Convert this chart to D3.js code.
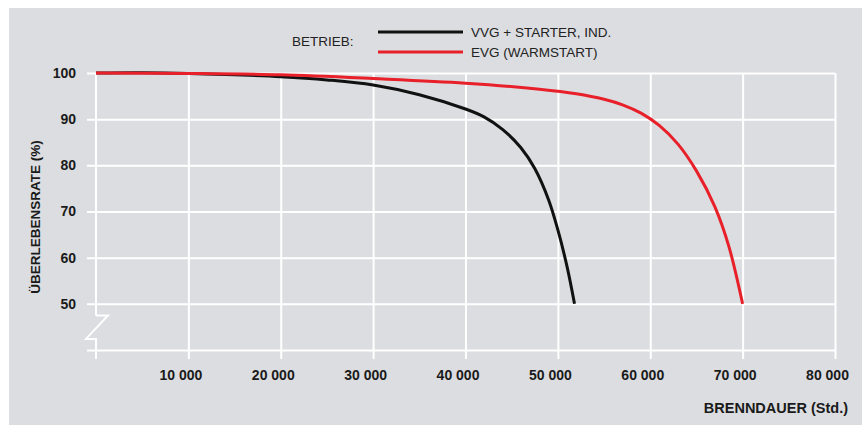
<!DOCTYPE html>
<html>
<head>
<meta charset="utf-8">
<script src="https://cdn.jsdelivr.net/npm/d3@7"></script>
<style>
  body { margin: 0; background: #fff; }
  svg { display: block; font-family: "Liberation Sans", Arial, sans-serif; }
</style>
</head>
<body>
<svg id="chart" width="862" height="426"></svg>
<script>
// Brenndauer (Std.) / Überlebensrate (%)
const vvgHours = [0, 5000, 10000, 15000, 20000, 25000, 30000, 35000, 40000, 42000, 44000, 46000, 47500, 49000, 50000, 51000, 51800];
const vvgRate  = [100, 100.05, 99.9, 99.6, 99.2, 98.5, 97.4, 95.3, 92.2, 90.5, 87.8, 83.8, 79.3, 72.5, 66, 58, 50];

const evgHours = [0, 10000, 20000, 30000, 40000, 48000, 52000, 55000, 57000, 59000, 61000, 63000, 65000, 67000, 68500, 70000];
const evgRate  = [100, 99.9, 99.6, 98.8, 97.8, 96.5, 95.5, 94.3, 93.1, 91.3, 88.6, 84.6, 78.8, 71.0, 62.5, 50];

const seriesNames  = ["VVG + STARTER, IND.", "EVG (WARMSTART)"];
const seriesColors = ["#111111", "#e8202a"];

const xTicks = [10000, 20000, 30000, 40000, 50000, 60000, 70000, 80000];
const yTicks = [40, 50, 60, 70, 80, 90, 100];

const series = [
  vvgHours.map((h, i) => ({h: h, r: vvgRate[i]})),
  evgHours.map((h, i) => ({h: h, r: evgRate[i]}))
];

const svg = d3.select("#chart");

// grauer Hintergrund
svg.append("rect")
  .attr("x", 9).attr("y", 8)
  .attr("width", 853).attr("height", 417)
  .attr("fill", "#dcdde0");

const x = d3.scaleLinear().domain([0, 80000]).range([96, 835]);
const y = d3.scaleLinear().domain([40, 100]).range([350, 73]);

const xBottom = 359;

// x-Achse: senkrechte Gitterlinien + Beschriftung
const xAxis = svg.append("g")
  .attr("transform", `translate(0,${xBottom})`)
  .call(d3.axisBottom(x)
    .tickValues(xTicks)
    .tickSize(-(xBottom - y(100)))
    .tickPadding(11)
    .tickFormat(d => d3.format(",")(d).replace(",", " ")));
xAxis.select(".domain").remove();
xAxis.selectAll(".tick line").attr("stroke", "#fff").attr("stroke-width", 2);
xAxis.selectAll(".tick text")
  .attr("x", -8)
  .attr("fill", "#1a1a1a")
  .style("font-size", "14px")
  .style("font-weight", "bold");

// y-Achse: waagrechte Gitterlinien + Beschriftung
const yAxis = svg.append("g")
  .attr("transform", `translate(${x(80000)},0)`)
  .call(d3.axisLeft(y)
    .tickValues(yTicks)
    .tickSize(x(80000) - 87)
    .tickPadding(11)
    .tickFormat(d => d === 40 ? "" : d));
yAxis.select(".domain").remove();
yAxis.selectAll(".tick line").attr("stroke", "#fff").attr("stroke-width", 2);
yAxis.selectAll(".tick text")
  .attr("fill", "#1a1a1a")
  .style("font-size", "14px")
  .style("font-weight", "bold");

// linke Achse mit Bruchzeichen
const x0 = x(0);
svg.append("line")
  .attr("x1", x0).attr("x2", x0)
  .attr("y1", y(100)).attr("y2", y(47.5))
  .attr("stroke", "#fff").attr("stroke-width", 2);
svg.append("path")
  .attr("d", `M${x0},${y(47.5)} H${x0 + 12} L${x0 - 10},${y(42.4)} H${x0} V${xBottom}`)
  .attr("fill", "none")
  .attr("stroke", "#fff")
  .attr("stroke-width", 2);

// Kurven
const line = d3.line()
  .x(d => x(d.h))
  .y(d => y(d.r))
  .curve(d3.curveCatmullRom.alpha(0.5));

svg.selectAll(".kurve")
  .data(series)
  .enter()
  .append("path")
  .attr("class", "kurve")
  .attr("fill", "none")
  .attr("stroke", (d, i) => seriesColors[i])
  .attr("stroke-width", 3)
  .attr("stroke-linejoin", "round")
  .attr("d", line);

// Achsentitel
svg.append("text")
  .attr("x", 848).attr("y", 413)
  .attr("text-anchor", "end")
  .attr("fill", "#1a1a1a")
  .style("font-size", "14.5px")
  .style("font-weight", "bold")
  .text("BRENNDAUER (Std.)");

svg.append("text")
  .attr("transform", "translate(40,217) rotate(-90)")
  .attr("text-anchor", "middle")
  .attr("fill", "#1a1a1a")
  .style("font-size", "13.5px")
  .style("font-weight", "bold")
  .text("ÜBERLEBENSRATE (%)");

// Legende
svg.append("text")
  .attr("x", 292).attr("y", 46)
  .attr("fill", "#222")
  .style("font-size", "13.5px")
  .text("BETRIEB:");

const legend = svg.selectAll(".leg")
  .data(seriesNames)
  .enter()
  .append("g")
  .attr("class", "leg")
  .attr("transform", (d, i) => `translate(378,${32 + i * 20})`);
legend.append("line")
  .attr("x1", 0).attr("x2", 85)
  .attr("stroke", (d, i) => seriesColors[i])
  .attr("stroke-width", 3);
legend.append("text")
  .attr("x", 93).attr("y", 5)
  .attr("fill", "#222")
  .style("font-size", "13.5px")
  .text(d => d);
</script>
</body>
</html>
